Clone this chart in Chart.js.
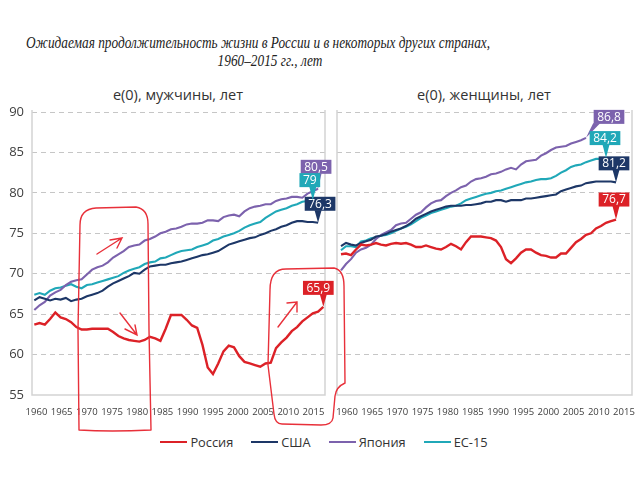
<!DOCTYPE html>
<html>
<head>
<meta charset="utf-8">
<script src="https://cdn.jsdelivr.net/npm/chart.js@4.4.1/dist/chart.umd.min.js"></script>
<style>
  body { margin: 0; background: #fff; width: 640px; height: 480px; position: relative; overflow: hidden; font-family: "Open Sans", sans-serif; }
  .tl { position: absolute; white-space: nowrap; font: italic 17.5px "Liberation Serif", serif; color: #222; transform: translateX(-50%) scaleX(0.76); transform-origin: 50% 50%; }
  .sub { position: absolute; top: 85px; font-size: 14.5px; color: #333; white-space: nowrap; transform: translateX(-50%); }
  canvas { position: absolute; top: 100px; }
  #legend { position: absolute; top: 433px; left: 13px; width: 640px; display: flex; justify-content: center; font-size: 12.8px; color: #333; }
  #legend span.item { display: flex; align-items: center; margin-right: 18px; }
  #legend span.line { display: inline-block; width: 27px; height: 2.5px; margin-right: 3px; }
  svg { position: absolute; left: 0; top: 0; pointer-events: none; }
</style>
</head>
<body>
<div class="tl" style="left:258px; top:32px">Ожидаемая продолжительность жизни в России и в некоторых других странах,</div>
<div class="tl" style="left:270px; top:50px">1960–2015 гг., лет</div>
<div class="sub" style="left:178px">e(0), мужчины, лет</div>
<div class="sub" style="left:484px">e(0), женщины, лет</div>
<canvas id="men" width="336" height="325" style="left:0"></canvas>
<canvas id="women" width="309" height="325" style="left:331px"></canvas>
<div id="legend"></div>
<svg width="640" height="480" viewBox="0 0 640 480" fill="none" stroke="#e8303a" stroke-width="1.4" stroke-linecap="round">
  <path d="M79,430 L78,330 L80,225 Q80,209 96,208 L136,207 Q148,209 148,224 L149,330 L151,430 M79,430 Q110,432 151,430"/>
  <path d="M97,254 L122,238 M110,240 L122,238 L117,248"/>
  <path d="M120,313 L137,335 M125,329 L137,335 L135,325"/>
  <path d="M270,290 Q270,269 286,269 L334,268 Q344,270 344,286 L345,383 Q336,387 335,396 L333,418 Q332,425 321,425 L282,424 Q275,424 274,414 L268,365 L270,290"/>
  <path d="M278,327 L297,302 M287,303 L297,302 L297,312"/>
</svg>
<script>
const firstYear = 1960;
const seriesNames = ['Россия', 'США', 'Япония', 'ЕС-15'];
const seriesColors = ['#dc2127', '#1d3767', '#7c62ad', '#20a8b8'];
const xTickYears = [1960, 1965, 1970, 1975, 1980, 1985, 1990, 1995, 2000, 2005, 2010, 2015];

// мужчины
const russiaMen = [63.7,63.9,63.7,64.4,65.2,64.6,64.4,64.0,63.4,63.1,
  63.1,63.2,63.2,63.2,63.2,62.8,62.3,62.0,61.8,61.7,
  61.6,61.8,62.2,62.0,61.7,63.2,64.9,64.9,64.9,64.3,
  63.6,63.3,61.2,58.4,57.6,58.9,60.4,61.1,60.9,59.8,
  59.1,58.9,58.7,58.5,58.9,59.0,60.8,61.5,62.1,62.9,
  63.4,64.1,64.6,65.1,65.3,65.9];
const usaMen = [66.7,67.1,66.9,66.7,66.9,66.8,67.0,66.6,66.8,66.9,
  67.2,67.4,67.6,67.9,68.4,68.8,69.1,69.4,69.7,70.1,
  70.0,70.5,70.9,71.0,71.1,71.1,71.3,71.4,71.5,71.7,
  71.9,72.1,72.3,72.4,72.6,72.8,73.2,73.6,73.8,74.0,
  74.2,74.4,74.5,74.8,75.0,75.3,75.5,75.8,76.0,76.3,
  76.5,76.5,76.4,76.4,76.3];
const japanMen = [65.5,66.1,66.5,67.3,67.7,68.0,68.6,69.0,69.2,69.3,
  69.9,70.5,70.8,71.0,71.4,72.0,72.4,72.8,73.3,73.5,
  73.6,74.1,74.3,74.6,75.0,75.2,75.5,75.6,75.8,76.1,
  76.2,76.2,76.3,76.6,76.6,76.5,77.0,77.2,77.3,77.1,
  77.7,78.1,78.3,78.4,78.6,78.6,79.0,79.2,79.3,79.5,
  79.5,79.4,79.9,80.2,80.5];
const euMen = [67.4,67.6,67.4,67.9,68.2,68.3,68.5,68.7,68.4,68.2,
  68.6,68.7,68.9,69.1,69.3,69.5,69.7,70.1,70.4,70.6,
  70.8,71.2,71.4,71.5,71.9,72.0,72.3,72.6,72.8,72.9,
  73.0,73.3,73.5,73.7,74.1,74.3,74.6,74.8,75.0,75.3,
  75.7,76.0,76.2,76.4,76.9,77.3,77.7,77.9,78.1,78.4,
  78.6,78.9,79.0,79.1];

// женщины
const russiaWomen = [72.4,72.5,72.3,73.0,73.6,73.5,73.6,73.8,73.6,73.5,
  73.7,73.8,73.7,73.8,73.6,73.3,73.3,73.5,73.3,73.1,
  73.0,73.3,73.7,73.4,73.0,73.9,74.6,74.6,74.6,74.5,
  74.4,74.1,73.3,71.8,71.3,71.9,72.6,73.0,73.0,72.6,
  72.3,72.2,72.0,72.0,72.5,72.5,73.2,73.9,74.3,74.8,
  75.0,75.6,75.9,76.3,76.5,76.7];
const usaWomen = [73.4,73.8,73.6,73.5,73.8,74.0,74.2,74.6,74.7,74.9,
  75.2,75.4,75.6,75.9,76.3,76.8,77.1,77.4,77.7,77.9,
  78.1,78.3,78.4,78.4,78.4,78.5,78.5,78.6,78.7,78.9,
  78.9,79.1,79.1,78.9,79.1,79.1,79.1,79.3,79.3,79.4,
  79.5,79.6,79.7,79.8,80.2,80.4,80.6,80.8,80.9,81.2,
  81.3,81.4,81.4,81.4,81.4,81.3];
const japanWomen = [70.4,71.2,71.8,72.6,73.0,73.2,73.6,74.3,74.8,75.1,
  75.4,76.0,76.2,76.3,76.8,77.3,77.6,78.2,78.7,79.0,
  79.1,79.6,80.0,80.3,80.7,80.9,81.4,81.7,81.8,82.0,
  82.3,82.4,82.6,82.9,83.1,82.9,83.5,83.9,84.0,84.1,
  84.6,84.9,85.3,85.6,85.7,85.8,86.1,86.3,86.5,86.8];
const euWomen = [72.9,73.4,73.4,73.3,74.0,74.1,74.4,74.5,74.7,74.8,
  75.0,75.3,75.6,75.8,76.1,76.5,76.9,77.2,77.5,77.7,
  77.9,78.1,78.3,78.4,78.7,79.1,79.3,79.5,79.7,79.9,
  80.0,80.2,80.3,80.5,80.7,80.9,81.1,81.3,81.4,81.6,
  81.7,81.7,81.8,82.1,82.5,82.8,83.2,83.4,83.5,83.8,
  84.0,84.2,84.2,84.3];

// подписи в конце линий
const endTagsMen = ['65,9', '76,3', '80,5', '79'];
const endTagsWomen = ['76,7', '81,2', '86,8', '84,2'];
const tagShiftMen = [[-5, -19], [2, -19], [-2, -22], [-3, -20]];
const tagShiftWomen = [[-2, -20], [-2, -19], [23, -21], [-1, -20]];

function toPoints(arr) {
  return arr.map((v, i) => ({ x: firstYear + i, y: v }));
}

const frame = {
  id: 'frame',
  beforeDatasetsDraw(chart) {
    const a = chart.chartArea, c = chart.ctx;
    c.save();
    c.strokeStyle = '#d3d3d3';
    c.lineWidth = 1.5;
    c.beginPath();
    c.moveTo(a.left, a.top - 2);
    c.lineTo(a.left, a.bottom);
    c.lineTo(a.right, a.bottom);
    c.lineTo(a.right, a.top - 2);
    c.stroke();
    c.restore();
  }
};

const endTags = {
  id: 'endTags',
  afterDatasetsDraw(chart, args, opts) {
    const c = chart.ctx;
    c.save();
    c.font = '12px "Open Sans", sans-serif';
    c.textAlign = 'center';
    c.textBaseline = 'middle';
    chart.data.datasets.forEach((ds, i) => {
      const pts = chart.getDatasetMeta(i).data;
      const p = pts[pts.length - 1];
      const [dx, dy] = opts.shift[i];
      const txt = opts.texts[i];
      const w = c.measureText(txt).width + 7, h = 14;
      const cx = p.x + dx, cy = p.y + dy;
      const left = cx - w / 2, bottom = cy + h / 2;
      c.fillStyle = ds.borderColor;
      c.fillRect(left, cy - h / 2, w, h);
      let bx = Math.min(Math.max(p.x, left + 3), left + w - 3);
      c.beginPath();
      c.moveTo(bx - 3.5, bottom - 0.5);
      c.lineTo(bx + 3.5, bottom - 0.5);
      c.lineTo(p.x, p.y);
      c.closePath();
      c.fill();
      c.fillStyle = '#fff';
      c.fillText(txt, cx, cy + 0.5);
    });
    c.restore();
  }
};

function makeChart(id, lists, tags, shifts, o) {
  const datasets = lists.map((arr, i) => ({
    label: seriesNames[i],
    data: toPoints(arr),
    borderColor: seriesColors[i],
    borderWidth: i === 0 ? 2.4 : 2.1,
    pointRadius: 0,
    tension: 0,
    xAxisID: 'xd'
  }));
  return new Chart(document.getElementById(id), {
    type: 'line',
    data: { datasets },
    plugins: [frame, endTags],
    options: {
      responsive: false,
      animation: false,
      layout: { padding: { top: 12, right: o.padRight, left: 0, bottom: 0 } },
      plugins: {
        legend: { display: false },
        tooltip: { enabled: false },
        endTags: { texts: tags, shift: shifts }
      },
      scales: {
        xd: { type: 'linear', display: false, min: o.dataMin, max: o.dataMax },
        x: {
          type: 'linear', position: 'bottom', min: o.labMin, max: o.labMax,
          afterBuildTicks: s => { s.ticks = xTickYears.map(v => ({ value: v })); },
          afterFit: s => { s.height = 30; },
          grid: { display: false, drawTicks: true, tickLength: 11 },
          border: { display: false },
          ticks: { autoSkip: false, maxRotation: 0, padding: 1, color: '#404040',
                   font: { family: 'Open Sans', size: 9.5 }, callback: v => String(v) }
        },
        y: {
          min: 55, max: 90,
          afterFit: s => { s.width = o.yWidth; s.paddingTop = 0; s.paddingBottom = 0; },
          grid: { drawTicks: false, lineWidth: 1,
                  color: c => c.tick && c.tick.value === 55 ? 'rgba(0,0,0,0)' : '#c6c6c6' },
          border: { display: false, dash: [5, 4] },
          ticks: { display: o.yLabels, stepSize: 5, padding: 8, color: '#404040',
                   font: { family: 'Open Sans', size: 13 } }
        }
      }
    }
  });
}

makeChart('men', [russiaMen, usaMen, japanMen, euMen], endTagsMen, tagShiftMen, {
  padRight: 11, yWidth: 32, yLabels: true,
  dataMin: 1959.56, dataMax: 2015.32, labMin: 1959.11, labMax: 2017.29
});
makeChart('women', [russiaWomen, usaWomen, japanWomen, euWomen], endTagsWomen, tagShiftWomen, {
  padRight: 8, yWidth: 6, yLabels: false,
  dataMin: 1959.2, dataMax: 2018.2, labMin: 1958.01, labMax: 2016.6
});

const lg = document.getElementById('legend');
seriesNames.forEach((n, i) => {
  const it = document.createElement('span');
  it.className = 'item';
  it.innerHTML = '<span class="line" style="background:' + seriesColors[i] + '"></span>' + n;
  lg.appendChild(it);
});
</script>
</body>
</html>
